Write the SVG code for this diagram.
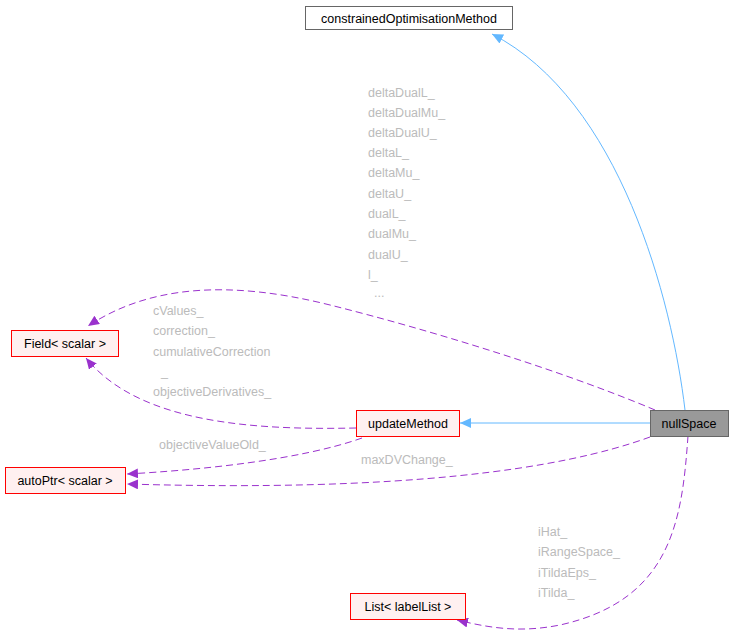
<svg xmlns="http://www.w3.org/2000/svg" width="734" height="636" viewBox="0 0 734 636">
<style>
.n rect{fill:#fff0f0;stroke:#ff0000;stroke-width:1}
text{font-family:"Liberation Sans",Arial,sans-serif;font-size:12.5px}
.lbl{fill:#bbbbbb;font-size:12.5px}
.inh{fill:none;stroke:#63b8ff;stroke-width:1}
.use{fill:none;stroke:#9a32cd;stroke-width:1;stroke-dasharray:7,4}
</style>
<defs>
<marker id="ab" markerWidth="12" markerHeight="10" refX="11" refY="5" orient="auto" markerUnits="userSpaceOnUse"><path d="M0,0 L11,5 L0,10 Z" fill="#63b8ff"/></marker>
<marker id="ap" markerWidth="12" markerHeight="10" refX="11" refY="5" orient="auto" markerUnits="userSpaceOnUse"><path d="M0,0 L11,5 L0,10 Z" fill="#9a32cd"/></marker>
</defs>
<rect width="734" height="636" fill="#fff"/>
<g id="edges">
<path class="inh" d="M685,410 C672,300 620,100 492,34" marker-end="url(#ab)"/>
<path class="inh" d="M650,423 L460,423" marker-end="url(#ab)"/>
<path class="use" d="M655,410 C560,370 430,330 330,305 C230,280 150,285 88,326" marker-end="url(#ap)"/>
<path class="use" d="M356,428 C260,430 140,425 86,358" marker-end="url(#ap)"/>
<path class="use" d="M362,438 C300,460 200,470 127,474" marker-end="url(#ap)"/>
<path class="use" d="M650,437 C560,470 400,492 127,484" marker-end="url(#ap)"/>
<path class="use" d="M688,436 C682,520 672,600 560,625 C520,633 490,628 457,620" marker-end="url(#ap)"/>
</g>
<g id="constrainedOptimisationMethod"><rect x="305.5" y="6.5" width="207" height="23" fill="#fff" stroke="#666"/><text x="409" y="22.5" text-anchor="middle">constrainedOptimisationMethod</text></g>
<g id="Field" class="n"><rect x="11.5" y="330.5" width="107" height="26"/><text x="65" y="348" text-anchor="middle">Field&lt; scalar &gt;</text></g>
<g id="updateMethod" class="n"><rect x="356.5" y="410.5" width="103" height="26"/><text x="408" y="428" text-anchor="middle">updateMethod</text></g>
<g id="nullSpace"><rect x="650.5" y="410.5" width="78" height="26" fill="#999" stroke="#666"/><text x="689" y="428" text-anchor="middle">nullSpace</text></g>
<g id="autoPtr" class="n"><rect x="5.5" y="467.5" width="120" height="26"/><text x="65" y="485" text-anchor="middle">autoPtr&lt; scalar &gt;</text></g>
<g id="List" class="n"><rect x="350.5" y="593.5" width="115" height="26"/><text x="408" y="611" text-anchor="middle">List&lt; labelList &gt;</text></g>
<g id="labels" class="lbl">
<text class="lbl" x="368" y="97">deltaDualL_</text>
<text class="lbl" x="368" y="117">deltaDualMu_</text>
<text class="lbl" x="368" y="137">deltaDualU_</text>
<text class="lbl" x="368" y="157">deltaL_</text>
<text class="lbl" x="368" y="177">deltaMu_</text>
<text class="lbl" x="368" y="198">deltaU_</text>
<text class="lbl" x="368" y="218">dualL_</text>
<text class="lbl" x="368" y="238">dualMu_</text>
<text class="lbl" x="368" y="259">dualU_</text>
<text class="lbl" x="368" y="279">l_</text>
<text class="lbl" x="374" y="297">...</text>
<text class="lbl" x="153" y="315">cValues_</text>
<text class="lbl" x="153" y="335">correction_</text>
<text class="lbl" x="153" y="356">cumulativeCorrection</text>
<text class="lbl" x="161" y="376">_</text>
<text class="lbl" x="153" y="396">objectiveDerivatives_</text>
<text class="lbl" x="159" y="449">objectiveValueOld_</text>
<text class="lbl" x="361" y="464">maxDVChange_</text>
<text class="lbl" x="538" y="536">iHat_</text>
<text class="lbl" x="538" y="556">iRangeSpace_</text>
<text class="lbl" x="538" y="577">iTildaEps_</text>
<text class="lbl" x="538" y="597">iTilda_</text>
</g>
</svg>
